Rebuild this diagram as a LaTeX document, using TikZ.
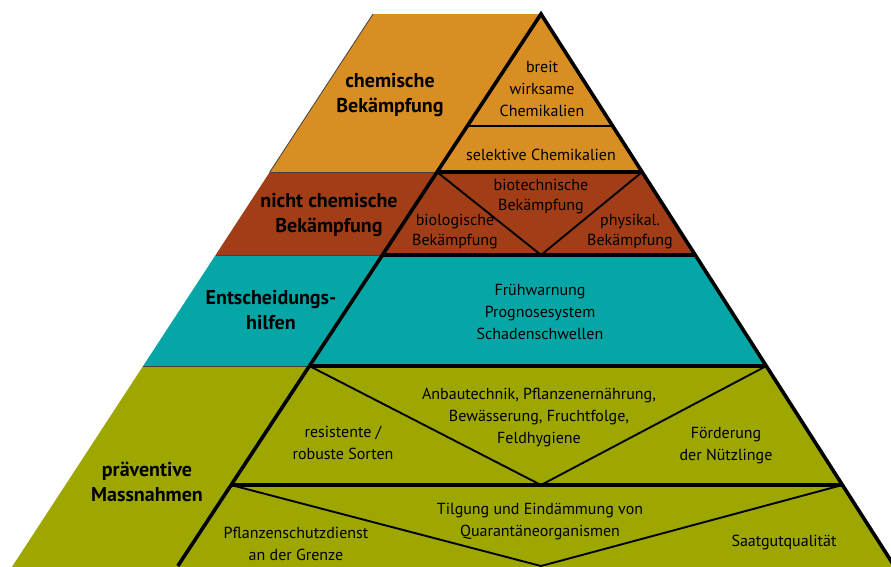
\documentclass[tikz,border=0pt]{standalone}
\usepackage{fontspec}
\setmainfont{PT Sans}
\definecolor{chemorange}{RGB}{216,142,34}
\definecolor{nichtbrown}{RGB}{161,62,24}
\definecolor{hilfteal}{RGB}{6,165,166}
\definecolor{praevolive}{RGB}{158,166,0}

\begin{document}
\begin{tikzpicture}[x=1pt,y=-1pt,
  heavy/.style={line width=3.6pt, line join=miter},
  light/.style={line width=1.9pt},
  hair/.style={line width=0.8pt, draw=black!75},
  txt/.style={align=center, inner sep=0pt, font=\fontsize{16}{22}\selectfont},
  tight/.style={align=center, inner sep=0pt, font=\fontsize{16}{20}\selectfont},
  head/.style={align=center, inner sep=0pt, font=\fontsize{20}{25}\selectfont\bfseries}]
\clip (0,0) rectangle (891,566);
% bands
\fill [chemorange] (373,14)--(541,14)--(642.1,172)--(269.8,172)--cycle;
\fill [nichtbrown] (269.8,172)--(642.1,172)--(695.2,255)--(215.6,255)--cycle;
\fill [hilfteal] (215.6,255)--(695.2,255)--(766.3,366)--(143.1,366)--cycle;
\fill [praevolive] (143.1,366)--(766.3,366)--(900,576)--(6,576)--cycle;
\draw [hair] (373,14)--(269.8,172);
\draw [hair] (269.8,172)--(437,172);
\draw [hair] (215.6,255)--(382.4,255);
\draw [hair] (143.1,366)--(309.4,366);
% inner lines
\draw [light] (467.3,126)--(612.7,126);
\draw [light] (437,172)--(541,255)--(642.1,172);
\draw [light] (309.4,366)--(541,485)--(766.3,366);
\draw [light] (231.1,485)--(541,566)--(842.4,485);
% triangle
\draw [heavy] (177.8,566)--(541,14)--(894.3,566);
\draw [heavy] (437,172)--(642.1,172);
\draw [heavy] (382.4,255)--(695.2,255);
\draw [heavy] (309.4,366)--(766.3,366);
\draw [heavy] (231.1,485)--(842.4,485);
% labels
\node [head] (chem) at (390,95) {chemische\\Bekämpfung};
\node [head] (nichtchem) at (329,215) {nicht chemische\\Bekämpfung};
\node [head] (hilfen) at (271,310) {Entscheidungs-\\hilfen};
\node [head] (praev) at (147,482) {präventive\\Massnahmen};
\node [txt] (breit) at (542,89) {breit\\wirksame\\Chemikalien};
\node [txt] (selektiv) at (541,155) {selektive Chemikalien};
\node [tight] (biotech) at (541,197) {biotechnische\\Bekämpfung};
\node [tight] (biolog) at (455,232) {biologische\\Bekämpfung};
\node [tight] (physik) at (630,232) {physikal.\\Bekämpfung};
\node [txt] (warn) at (540,312) {Frühwarnung\\Prognosesystem\\Schadenschwellen};
\node [txt] (anbau) at (539,417) {Anbautechnik, Pflanzenernährung,\\Bewässerung, Fruchtfolge,\\Feldhygiene};
\node [txt] (sorten) at (343,443) {resistente /\\robuste Sorten};
\node [txt] (nuetz) at (726,446) {Förderung\\der Nützlinge};
\node [txt] (tilgung) at (540,522) {Tilgung und Eindämmung von\\Quarantäneorganismen};
\node [txt] (grenze) at (296,544) {Pflanzenschutzdienst\\an der Grenze};
\node [txt] (saatgut) at (784,542) {Saatgutqualität};
\end{tikzpicture}
\end{document}
